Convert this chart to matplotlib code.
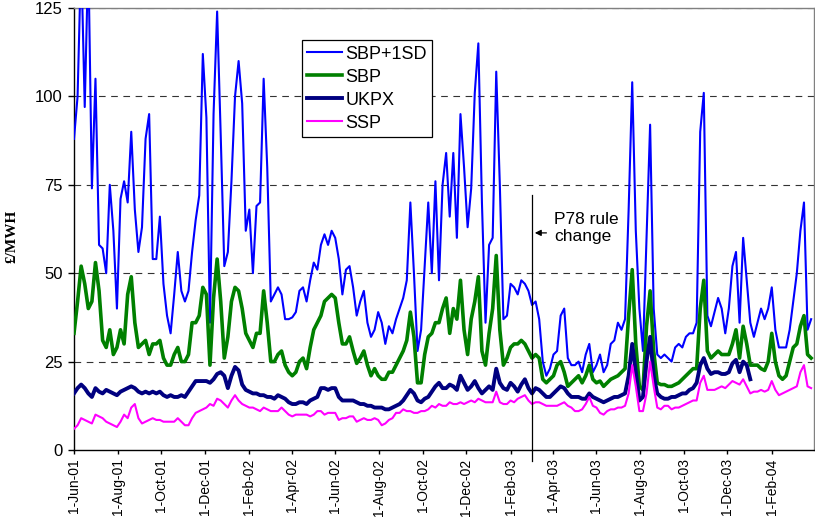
import matplotlib
matplotlib.use("Agg")
import matplotlib.pyplot as plt
import matplotlib.dates as mdates
import pandas as pd
import numpy as np

# ---- data (5-day sampling from 1-Jun-01) ----
start_date = "2001-06-01"
sbp_1sd = [88, 100, 140, 97, 140, 74, 105, 58, 57, 50, 75, 62, 40, 71, 76, 70, 90, 68, 56, 63,
           88, 95, 54, 54, 66, 47, 38, 33, 44, 56, 45, 42, 45, 56, 65, 72,
           112, 94, 36, 95, 124, 89, 52, 56, 76, 100, 110, 98, 62, 68, 50, 69, 70, 105, 80,
           42, 44, 46, 44, 37, 37, 37.5, 39, 45, 46, 42, 48, 53, 51, 58, 61,
           58, 62, 60, 54, 44, 51, 52, 46, 38, 42, 45, 36, 32, 34, 39, 36, 30, 35, 33, 37,
           40, 43, 48, 70, 50, 28, 34, 52, 70, 50, 76, 48, 75, 84,
           66, 84, 60, 95, 80, 63, 74, 101, 115, 70, 36, 58, 60, 107, 75, 37, 38, 47, 46, 44,
           48, 47, 45, 41, 42, 37, 25, 21, 23, 27, 28, 38, 40, 26, 24,
           24, 25, 22, 27, 30, 22, 24, 27, 22, 24, 30, 31, 36, 34, 37, 68, 104, 62, 40, 28,
           60, 92, 40, 27, 26, 27, 26, 25, 29, 30, 29, 32, 33, 33, 36,
           90, 101, 38, 35, 39, 43, 40, 33, 40, 52, 56, 36, 60, 48, 36, 32, 36, 40, 37, 40,
           46, 34, 29, 29, 29, 34, 42, 50, 62, 70, 34, 37]
sbp = [33, 42, 52, 47, 40, 42, 53, 45, 31, 29, 34, 27, 29, 34, 30, 44, 49, 36, 29, 30,
       31, 27, 30, 30, 31, 26, 24, 24, 27, 29, 25, 25, 27, 36, 36, 38,
       46, 44, 24, 43, 54, 42, 26, 32, 42, 46, 45, 40, 33, 31, 29, 33, 33, 45, 36,
       25, 25, 27, 28, 24, 22, 21, 22, 25, 26, 23, 29, 34, 36, 38, 42,
       43, 44, 43, 36, 30, 30, 32, 28, 24.5, 26, 28, 24, 21, 23, 21, 20, 20, 22, 22, 24,
       26, 28, 31, 39, 32, 19, 19, 27, 32, 33, 36, 36, 40, 43,
       33, 40, 37, 48, 34, 27, 37, 42, 49, 28, 24, 33, 40, 55, 34, 24, 26, 29, 30, 30,
       31, 30, 28, 26, 27, 26, 20, 19, 20, 21, 24, 25, 22, 18, 19,
       20, 21, 19, 21, 24, 20, 19, 19.5, 18, 19, 20, 20.5, 21, 22, 23, 38, 51, 30, 18, 17,
       35, 45, 28, 19, 18.5, 18.5, 18, 18, 18.5, 19, 20, 21, 22, 23, 23,
       40, 48, 28, 26, 27, 28, 27, 27, 27, 30, 34, 26, 35, 30, 24, 24, 24, 23, 22.5, 25,
       33, 25, 21, 20, 21, 25, 29, 30, 35, 38, 27, 26]
ukpx = [16, 17.5, 18.5, 17.5, 16, 15, 17.5, 16.5, 16, 17, 16.5, 16, 15.5, 16.5, 17, 17.5, 18, 17.5, 16.5, 16,
        16.5, 16, 16.5, 16, 16.5, 15.5, 15, 15.5, 15, 15, 15.5, 15, 16.5, 18, 19.5, 19.5,
        19.5, 19.5, 19, 20, 21.5, 22, 21, 17.5, 21, 23.5, 22.5, 18.5, 17, 16.5, 16, 16, 15.5, 15.5, 15,
        15, 14.5, 15.5, 15, 14.5, 13.5, 13, 13, 13.5, 13.5, 13, 14, 14.5, 15, 17.5, 17.5,
        17, 17.5, 17.5, 15, 14, 14, 14, 14, 13.5, 13, 13, 12.5, 12.5, 12, 12, 12, 11.5, 11.5, 12, 12.5,
        13, 14, 15.5, 17, 16, 14, 13.5, 14.5, 15, 16.5, 18, 19, 17.5, 17.5,
        18.5, 18, 17, 21, 19, 17, 18, 19.5, 17.5, 16, 17, 18, 17, 23, 19, 17.5, 17, 19, 18, 16.5,
        18.5, 20, 17.5, 16, 17.5, 17, 16, 15, 15, 16, 17, 18, 17.5, 16, 15,
        15, 15, 14.5, 14.5, 16, 15, 14.5, 14, 13.5, 14, 14.5, 15, 15, 15.5, 16, 21, 30, 22, 14, 15,
        25, 32, 21, 16, 15, 14.5, 14.5, 15, 15, 15.5, 16, 16, 17, 17.5, 19,
        24, 26, 23, 21.5, 22, 22, 21.5, 21.5, 22, 24.5, 25.5, 22, 25, 24, 20]
ssp = [6, 7, 9, 8.5, 8, 7.5, 10, 9.5, 9, 8, 7.5, 7, 6.5, 8, 10, 9, 12, 13, 9, 7.5,
       8, 8.5, 9, 8.5, 8.5, 8, 8, 8, 8, 9, 8, 7, 7, 9, 10.5, 11,
       11.5, 12, 13, 12.5, 14.5, 14, 13, 12, 14, 15.5, 14, 13, 12.5, 12, 12, 11.5, 11, 12, 11.5,
       11, 11, 11, 12, 11, 10, 9.5, 10, 10, 10, 10, 9.5, 10, 11, 11, 10,
       10.5, 10.5, 10.5, 8.5, 9, 9, 9.5, 9.5, 8, 8.5, 9, 8.5, 8.5, 9, 8.5, 7, 7.5, 8.5, 9, 10.5,
       10.5, 11.5, 11, 11, 10.5, 10.5, 11, 11, 11.5, 12.5, 12, 13, 12.5, 12.5,
       13.5, 13, 13, 13.5, 13, 13.5, 14, 13.5, 14.5, 14, 13.5, 13.5, 13.5, 16.5, 13.5, 13, 13, 14, 13.5, 14.5,
       15, 15.5, 14, 13, 13.5, 13.5, 13, 12.5, 12.5, 12.5, 12.5, 13, 13.5, 12.5, 12,
       11, 11, 11.5, 13, 15, 12.5, 12, 10.5, 10, 11, 11.5, 11.5, 12, 12, 12.5, 16, 24, 18, 11, 11,
       16, 25, 18, 12, 11.5, 12.5, 12.5, 11.5, 12, 12, 12.5, 13, 13.5, 14, 14,
       19, 21, 17, 17, 17, 17.5, 18, 17.5, 18.5, 19.5, 19, 18.5, 20, 18, 16, 16.5, 16.5, 17, 16.5, 17,
       19.5, 17, 15.5, 16, 16.5, 17, 17.5, 18, 22, 24, 18, 17.5]
series_names = ["SBP+1SD", "SBP", "UKPX", "SSP"]
rule_change_date = "2003-03-03"
y_ticks = [0, 25, 50, 75, 100, 125]

dates = pd.date_range(start_date, periods=len(sbp_1sd), freq="5D")

plt.rcParams['font.family'] = ['Liberation Sans', 'DejaVu Sans']

fig = plt.figure(figsize=(8.15, 5.23), dpi=100)
ax = fig.add_axes([74/815, 73/523, 740/815, 442/523])

ax.plot(dates, sbp_1sd, color="#0000FF", lw=1.5, label=series_names[0], zorder=3)
ax.plot(dates, sbp, color="#008000", lw=2.6, label=series_names[1], zorder=4)
ax.plot(dates[:len(ukpx)], ukpx, color="#000080", lw=2.8, label=series_names[2], zorder=5)
ax.plot(dates, ssp, color="#FF00FF", lw=1.5, label=series_names[3], zorder=6)

ax.set_xlim(pd.Timestamp("2001-06-01"), pd.Timestamp("2004-03-31"))
ax.set_ylim(0, 125)
ax.set_yticks(y_ticks)
for v in y_ticks[1:]:
    ax.axhline(v, color="#333333", lw=0.8, ls=(0, (6, 5)), zorder=1)

ax.xaxis.set_major_locator(mdates.MonthLocator(bymonth=[2, 4, 6, 8, 10, 12], bymonthday=1))
ax.xaxis.set_major_formatter(plt.FuncFormatter(
    lambda x, pos: (lambda d: f"{d.day}-{d.strftime('%b-%y')}")(mdates.num2date(x))))
ax.tick_params(axis="x", direction="out", length=3, width=1, pad=3, labelsize=10, labelrotation=90)
ax.tick_params(axis="y", direction="out", length=4, width=1, pad=4, labelsize=12)

for s in ["left", "bottom"]:
    ax.spines[s].set_color("black")
    ax.spines[s].set_linewidth(1.0)
for s in ["top", "right"]:
    ax.spines[s].set_color("#808080")
    ax.spines[s].set_linewidth(1.0)

# P78 rule change marker
rc = pd.Timestamp(rule_change_date)
ax.plot([rc, rc], [72, -3], color="black", lw=0.9, clip_on=False, zorder=7)
ax.annotate("", xy=(rc, 61.4), xytext=(rc + pd.Timedelta(days=24), 61.4),
            arrowprops=dict(arrowstyle="-|>", color="black", lw=0.9, mutation_scale=9),
            zorder=8)
ax.text(pd.Timestamp("2003-04-03"), 67.2, "P78 rule\nchange", fontsize=12.5,
        ha="left", va="top", linespacing=1.1, zorder=8)

leg = ax.legend(loc="upper left", bbox_to_anchor=(0.308, 0.927), fontsize=13,
                frameon=True, fancybox=False, edgecolor="black", framealpha=1,
                handlelength=1.9, handletextpad=0.2, borderpad=0.3, labelspacing=0.33,
                borderaxespad=0)
leg.get_frame().set_linewidth(0.9)
leg.set_zorder(10)

fig.text(12/815, 1 - 236/523, "£/MWH", rotation=90, ha="center", va="center",
         fontsize=11, fontweight="bold", family=["Liberation Serif", "DejaVu Serif"])

fig.savefig("out.png", dpi=100, facecolor="white")
